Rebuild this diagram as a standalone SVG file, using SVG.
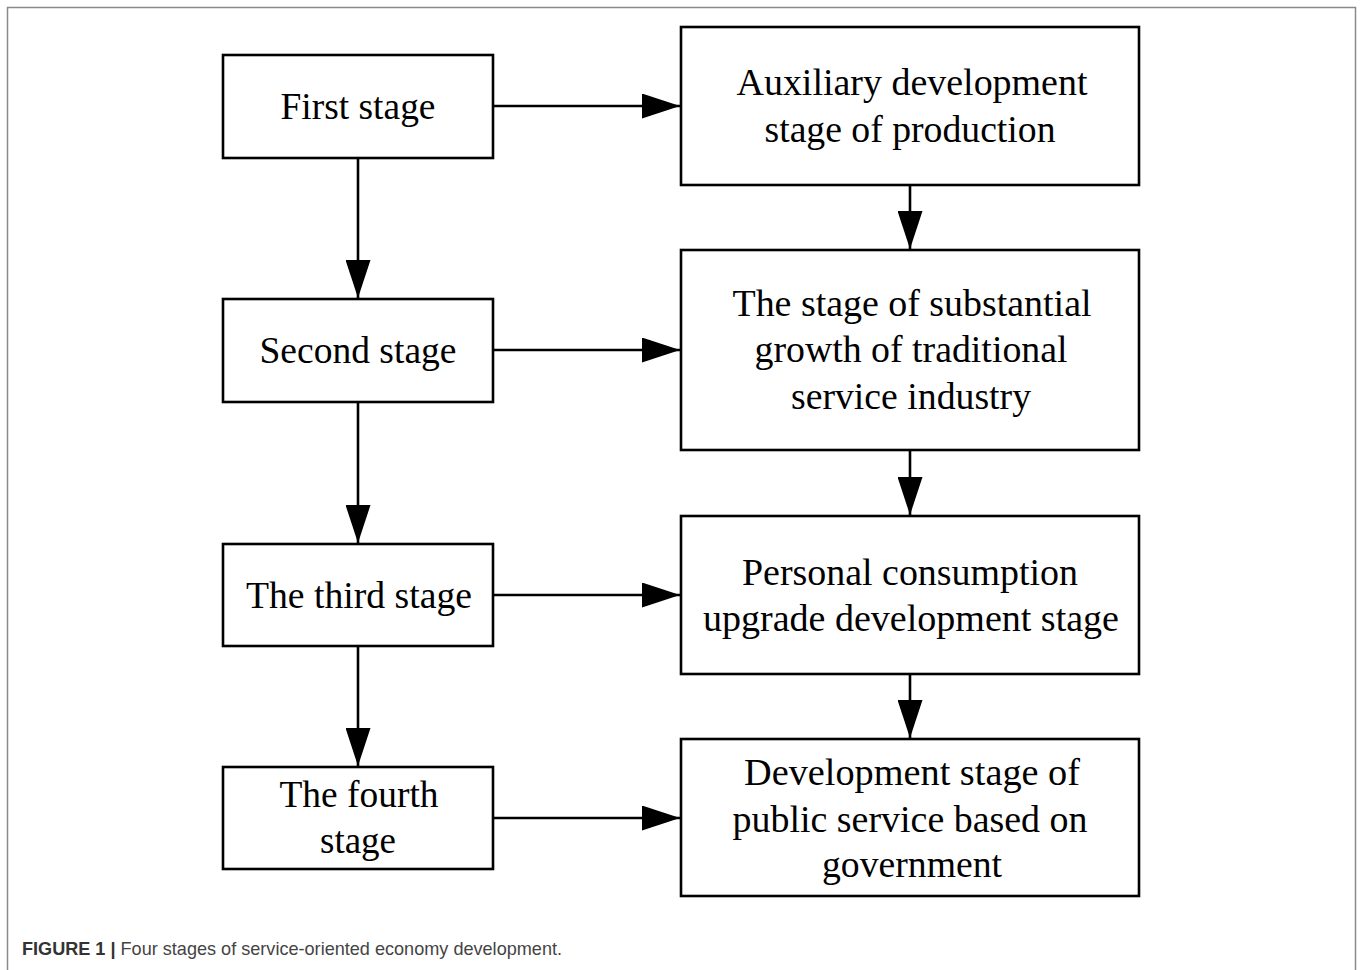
<svg xmlns="http://www.w3.org/2000/svg" width="1360" height="970" viewBox="0 0 1360 970">
<style>
.box{fill:#fff;stroke:#000;stroke-width:2.6}
.t{font-family:"Liberation Serif","Times New Roman",serif;font-size:38px;fill:#000;text-anchor:middle}
.c{stroke:#000;stroke-width:2.6;fill:none}
.cap{font-family:"Liberation Sans",Arial,sans-serif;font-size:19px;fill:#444}
</style>
<defs>
<marker id="ah" viewBox="0 0 38 25" refX="38" refY="12.5" markerWidth="38" markerHeight="25" markerUnits="userSpaceOnUse" orient="auto">
<path d="M0,0 L38,12.5 L0,25 Z" fill="#000"/>
</marker>
</defs>
<rect width="1360" height="970" fill="#fff"/>
<path d="M7.5,970 V7.5 H1355.5 V970" fill="none" stroke="#8a8a8a" stroke-width="1.5"/>

<g id="connectors">
<line class="c" x1="493" y1="106" x2="680" y2="106" marker-end="url(#ah)"/>
<line class="c" x1="493" y1="350" x2="680" y2="350" marker-end="url(#ah)"/>
<line class="c" x1="493" y1="595" x2="680" y2="595" marker-end="url(#ah)"/>
<line class="c" x1="493" y1="818" x2="680" y2="818" marker-end="url(#ah)"/>
<line class="c" x1="358" y1="158" x2="358" y2="298" marker-end="url(#ah)"/>
<line class="c" x1="358" y1="402" x2="358" y2="543" marker-end="url(#ah)"/>
<line class="c" x1="358" y1="646" x2="358" y2="766" marker-end="url(#ah)"/>
<line class="c" x1="910" y1="185" x2="910" y2="249" marker-end="url(#ah)"/>
<line class="c" x1="910" y1="450" x2="910" y2="515" marker-end="url(#ah)"/>
<line class="c" x1="910" y1="674" x2="910" y2="738" marker-end="url(#ah)"/>
</g>

<g id="first-stage">
<rect class="box" x="223" y="55" width="270" height="103"/>
<text class="t" x="358" y="119" textLength="155" lengthAdjust="spacingAndGlyphs">First stage</text>
</g>
<g id="second-stage">
<rect class="box" x="223" y="299" width="270" height="103"/>
<text class="t" x="358" y="363" textLength="197" lengthAdjust="spacingAndGlyphs">Second stage</text>
</g>
<g id="third-stage">
<rect class="box" x="223" y="544" width="270" height="102"/>
<text class="t" x="359" y="608" textLength="226" lengthAdjust="spacingAndGlyphs">The third stage</text>
</g>
<g id="fourth-stage">
<rect class="box" x="223" y="767" width="270" height="102"/>
<text class="t" x="359" y="807" textLength="159" lengthAdjust="spacingAndGlyphs">The fourth</text>
<text class="t" x="358" y="853" textLength="76" lengthAdjust="spacingAndGlyphs">stage</text>
</g>

<g id="auxiliary">
<rect class="box" x="681" y="27" width="458" height="158"/>
<text class="t" x="912" y="95" textLength="351" lengthAdjust="spacingAndGlyphs">Auxiliary development</text>
<text class="t" x="910" y="142" textLength="291" lengthAdjust="spacingAndGlyphs">stage of production</text>
</g>
<g id="substantial">
<rect class="box" x="681" y="250" width="458" height="200"/>
<text class="t" x="912" y="316" textLength="359" lengthAdjust="spacingAndGlyphs">The stage of substantial</text>
<text class="t" x="911" y="362" textLength="313" lengthAdjust="spacingAndGlyphs">growth of traditional</text>
<text class="t" x="911" y="409" textLength="240" lengthAdjust="spacingAndGlyphs">service industry</text>
</g>
<g id="personal">
<rect class="box" x="681" y="516" width="458" height="158"/>
<text class="t" x="910" y="585" textLength="336" lengthAdjust="spacingAndGlyphs">Personal consumption</text>
<text class="t" x="911" y="631" textLength="416" lengthAdjust="spacingAndGlyphs">upgrade development stage</text>
</g>
<g id="public">
<rect class="box" x="681" y="739" width="458" height="157"/>
<text class="t" x="912" y="785" textLength="336" lengthAdjust="spacingAndGlyphs">Development stage of</text>
<text class="t" x="910" y="832" textLength="355" lengthAdjust="spacingAndGlyphs">public service based on</text>
<text class="t" x="912" y="877" textLength="180" lengthAdjust="spacingAndGlyphs">government</text>
</g>

<text class="cap" x="22" y="955" textLength="540" lengthAdjust="spacingAndGlyphs"><tspan font-weight="bold" fill="#333">FIGURE 1 |</tspan> Four stages of service-oriented economy development.</text>
</svg>
